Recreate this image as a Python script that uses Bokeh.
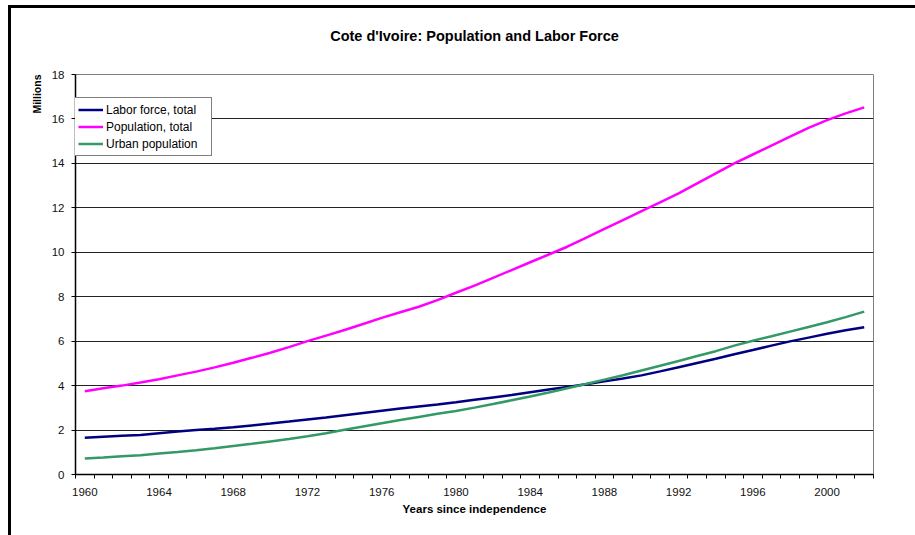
import math
from bokeh.plotting import figure
from bokeh.models import FixedTicker, Title, Legend, LegendItem
from bokeh.embed import file_html
from bokeh.resources import INLINE

years = list(range(1960, 2003))
labor_force = [1.65, 1.70, 1.74, 1.78, 1.86, 1.93, 2.00, 2.06, 2.13, 2.21,
               2.29, 2.38, 2.48, 2.57, 2.67, 2.77, 2.87, 2.97, 3.06, 3.15,
               3.25, 3.36, 3.47, 3.58, 3.70, 3.82, 3.94, 4.06, 4.19, 4.32,
               4.46, 4.64, 4.83, 5.02, 5.21, 5.41, 5.60, 5.80, 5.99, 6.16,
               6.33, 6.49, 6.63]
population = [3.75, 3.88, 4.00, 4.14, 4.29, 4.46, 4.63, 4.82, 5.03, 5.25,
              5.48, 5.73, 6.00, 6.25, 6.50, 6.77, 7.05, 7.30, 7.55, 7.85,
              8.18, 8.50, 8.85, 9.20, 9.55, 9.90, 10.25, 10.65, 11.05, 11.45,
              11.85, 12.25, 12.65, 13.10, 13.55, 14.00, 14.40, 14.80, 15.20, 15.60,
              15.95, 16.25, 16.52]
urban = [0.72, 0.76, 0.82, 0.87, 0.94, 1.01, 1.09, 1.18, 1.28, 1.38,
         1.49, 1.60, 1.72, 1.86, 2.01, 2.16, 2.31, 2.45, 2.59, 2.73,
         2.86, 3.01, 3.17, 3.34, 3.51, 3.69, 3.88, 4.07, 4.27, 4.47,
         4.68, 4.89, 5.11, 5.33, 5.55, 5.80, 6.02, 6.22, 6.43, 6.64,
         6.85, 7.08, 7.33]
x_tick_years = list(range(1960, 2001, 4))
y_ticks = list(range(0, 19, 2))
series_names = ["Labor force, total", "Population, total", "Urban population"]
series_colors = ["#000080", "#FF00FF", "#339966"]

FONT = "Liberation Sans"

p = figure(width=904, height=527, output_backend="svg", toolbar_location=None,
           x_range=(years[0] - 0.5, years[-1] + 0.5), y_range=(0, 18),
           frame_width=798, frame_height=400,
           min_border_left=64, min_border_right=42, min_border_top=66, min_border_bottom=61,
           background_fill_color="white", border_fill_color="white")
p.styles = {"border-top": "3px solid black", "border-left": "3px solid black",
            "margin-left": "8px", "margin-top": "5px"}

p.title.text = "Cote d'Ivoire: Population and Labor Force"
p.title.align = "center"
p.title.text_font = FONT
p.title.text_font_size = "14.5px"
p.title.text_font_style = "bold"
p.title.text_color = "black"
p.title.offset = 0
p.title.standoff = 31

# empty spacer between the title and the plot area
spacer = Title(text=" ", text_font_size="1px", standoff=12)
p.add_layout(spacer, "above")

p.outline_line_color = "#808080"
p.outline_line_width = 1

# x axis
xa = p.xaxis[0]
xa.ticker = FixedTicker(ticks=x_tick_years,
                        minor_ticks=[y - 0.5 for y in years] + [years[-1] + 0.5])
xa.major_tick_out = 0
xa.major_tick_in = 0
xa.minor_tick_out = 4
xa.minor_tick_in = 0
xa.minor_tick_line_color = "black"
xa.axis_line_color = "black"
xa.axis_line_width = 1.5
xa.major_label_text_font = FONT
xa.major_label_text_font_size = "11.5px"
xa.major_label_text_color = "#111111"
xa.major_label_standoff = 9
xa.axis_label = "Years since independence"
xa.axis_label_text_font = FONT
xa.axis_label_text_font_size = "11.5px"
xa.axis_label_text_font_style = "bold"
xa.axis_label_text_color = "black"
xa.axis_label_standoff = 4

# y axis
ya = p.yaxis[0]
ya.ticker = FixedTicker(ticks=y_ticks)
ya.major_tick_out = 4
ya.major_tick_in = 0
ya.minor_tick_line_color = None
ya.axis_line_color = "black"
ya.axis_line_width = 1.5
ya.major_tick_line_color = "black"
ya.major_label_text_font = FONT
ya.major_label_text_font_size = "11.5px"
ya.major_label_text_color = "#111111"
ya.major_label_standoff = 7

p.xgrid.grid_line_color = None
p.ygrid.grid_line_color = "#222222"
p.ygrid.grid_line_width = 1
p.ygrid.ticker = FixedTicker(ticks=y_ticks)

series = [labor_force, population, urban]
renderers = []
for vals, color in zip(series, series_colors):
    r = p.line(years, vals, line_color=color, line_width=2.5)
    renderers.append(r)

legend = Legend(items=[LegendItem(label=n, renderers=[r]) for n, r in zip(series_names, renderers)],
                location=(-1, 318), orientation="vertical")
legend.label_text_font = FONT
legend.label_text_font_size = "12px"
legend.label_text_color = "black"
legend.glyph_width = 25
legend.glyph_height = 17
legend.label_height = 17
legend.label_width = 102
legend.label_standoff = 3
legend.padding = 3
legend.spacing = 0
legend.margin = 0
legend.border_line_color = "black"
legend.border_line_width = 1
legend.background_fill_color = "white"
legend.background_fill_alpha = 1
p.add_layout(legend, "center")

ytitle = Title(text="Millions", align="right", text_font=FONT, text_font_size="10.5px",
               text_font_style="bold", text_color="black", standoff=12)
p.add_layout(ytitle, "left")

open("out.html", "w").write(file_html(p, INLINE))
